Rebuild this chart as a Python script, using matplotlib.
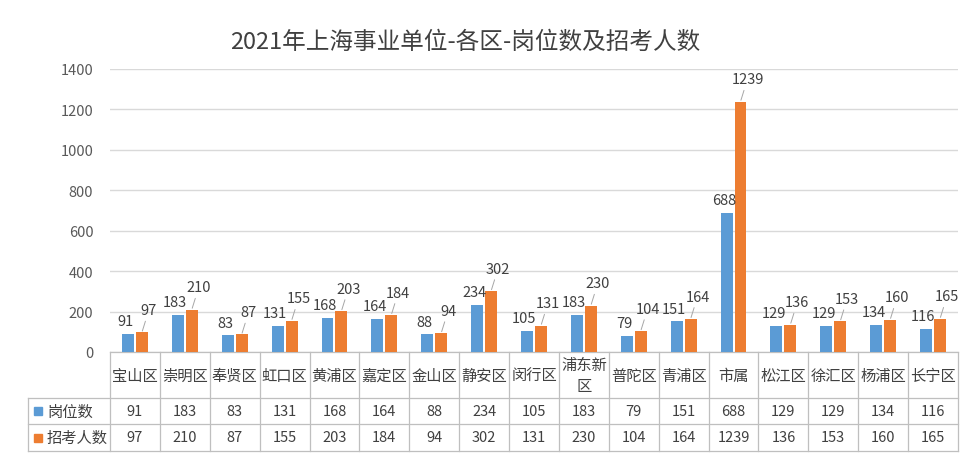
# 2021年上海事业单位 各区岗位数及招考人数 - clustered bars with a data table below

import matplotlib
matplotlib.use("Agg")
import matplotlib.pyplot as plt
import numpy as np

plt.rcParams['font.family'] = ['Noto Sans CJK SC', 'DejaVu Sans']

# data
districts = ['宝山区', '崇明区', '奉贤区', '虹口区', '黄浦区', '嘉定区', '金山区', '静安区', '闵行区',
             '浦东新\n区', '普陀区', '青浦区', '市属', '松江区', '徐汇区', '杨浦区', '长宁区']
posts = [91, 183, 83, 131, 168, 164, 88, 234, 105, 183, 79, 151, 688, 129, 129, 134, 116]
applicants = [97, 210, 87, 155, 203, 184, 94, 302, 131, 230, 104, 164, 1239, 136, 153, 160, 165]
series_names = ['岗位数', '招考人数']

blue = '#5B9BD5'
orange = '#ED7D31'
text_col = '#404040'
tick_col = '#595959'
line_col = '#BFBFBF'

fig = plt.figure(figsize=(9.7, 4.56), dpi=100)
fig.patch.set_facecolor('white')

W, H = 970, 456
left, right, top, bottom = 110, 958, 70, 353
ax = fig.add_axes([left / W, 1 - bottom / H, (right - left) / W, (bottom - top) / H])

x = np.arange(len(districts))
bw = 0.24
off = 0.14
ax.bar(x - off, posts, bw, color=blue, zorder=3)
ax.bar(x + off, applicants, bw, color=orange, zorder=3)

ax.set_xlim(-0.5, len(districts) - 0.5)
ax.set_ylim(0, 1400)
ax.set_yticks(np.arange(0, 1401, 200))
ax.yaxis.grid(True, color='#D9D9D9', lw=1, zorder=0)
ax.set_xticks([])
for s in ax.spines.values():
    s.set_visible(False)
ax.tick_params(axis='y', length=0, pad=12, labelsize=10.5, labelcolor=tick_col)

# data labels
for i in range(len(districts)):
    ax.annotate(str(posts[i]), (x[i] - off, posts[i]), xytext=(-2, 4),
                textcoords='offset points', ha='center', va='bottom',
                fontsize=10.5, color=text_col, zorder=4)
    ax.annotate(str(applicants[i]), (x[i] + off, applicants[i]), xytext=(5, 11),
                textcoords='offset points', ha='center', va='bottom',
                fontsize=10.5, color=text_col, zorder=4,
                arrowprops=dict(arrowstyle='-', color='#A6A6A6', lw=0.7,
                                shrinkA=1, shrinkB=1))

# data table under the axis
tr = ax.get_xaxis_transform()
ph = bottom - top
y_cat = -(399 - bottom) / ph
y_r1 = -(425 - bottom) / ph
y_r2 = -(452 - bottom) / ph
col_w = (right - left) / len(districts)
x_lab = -0.5 - (left - 28) / col_w
x0, x1 = -0.5, len(districts) - 0.5

kw = dict(transform=tr, color=line_col, lw=0.9, clip_on=False)
ax.plot([x0, x1], [0, 0], **kw)
for yy in (y_cat, y_r1, y_r2):
    ax.plot([x_lab, x1], [yy, yy], **kw)
ax.plot([x_lab, x_lab], [y_cat, y_r2], **kw)
for b in np.arange(len(districts) + 1) - 0.5:
    ax.plot([b, b], [0, y_r2], **kw)

for i, name in enumerate(districts):
    ax.text(x[i], y_cat / 2, name, transform=tr, ha='center', va='center',
            fontsize=11, color=text_col, linespacing=1.3)
    ax.text(x[i], (y_cat + y_r1) / 2, str(posts[i]), transform=tr, ha='center',
            va='center', fontsize=10.5, color=text_col)
    ax.text(x[i], (y_r1 + y_r2) / 2, str(applicants[i]), transform=tr, ha='center',
            va='center', fontsize=10.5, color=text_col)

# row headers with legend keys
for yy0, yy1, col, name in [(y_cat, y_r1, blue, series_names[0]), (y_r1, y_r2, orange, series_names[1])]:
    ym = (yy0 + yy1) / 2
    ax.plot([x_lab + 0.2], [ym], marker='s', ms=6, color=col, transform=tr, clip_on=False, ls='none')
    ax.text(x_lab + 0.38, ym, name, transform=tr, ha='left', va='center',
            fontsize=11, color=text_col)

fig.text(465 / W, 1 - 42 / H, '2021年上海事业单位-各区-岗位数及招考人数',
         ha='center', va='center', fontsize=17, color=text_col)

fig.savefig('out.png', dpi=100, facecolor='white')
